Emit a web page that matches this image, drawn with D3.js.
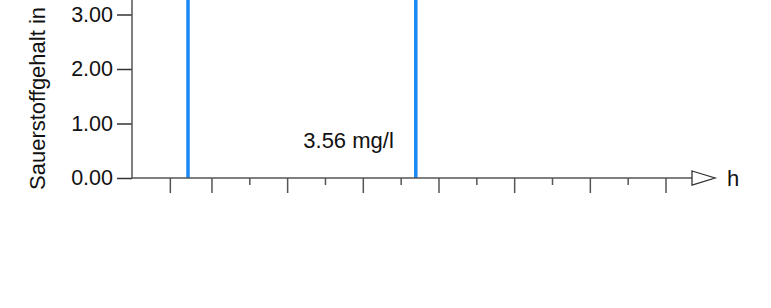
<!DOCTYPE html>
<html>
<head>
<meta charset="utf-8">
<script src="https://cdn.jsdelivr.net/npm/d3@7"></script>
<style>
  body { margin: 0; background: #fff; }
  svg { display: block; font-family: "Liberation Sans", Arial, sans-serif; }
</style>
</head>
<body>
<svg id="chart"></svg>
<script>
// values
var yTicks = [0, 1, 2, 3];
var majorTicks = [2, 4, 6, 8, 10, 12, 14];
var minorTicks = [3, 5, 7, 9, 11, 13];
var markTicks = [0.9];
var eventHours = [1.38, 7.4];
var oxygenLabel = "3.56 mg/l";
var yTitle = "Sauerstoffgehalt in";
var xTitle = "h";

var dimensions = {
  width: 771,
  height: 308,
  margin: { top: 0, left: 132 },
};
var axisY = 178;
var axisEndX = 692;

var svg = d3
  .select("#chart")
  .attr("width", dimensions.width)
  .attr("height", dimensions.height);

var xScale = d3.scaleLinear().domain([-0.1, 14.7]).range([dimensions.margin.left, axisEndX]);
var yScale = d3.scaleLinear().domain([0, 3]).range([axisY, 14.5]);

var axisColor = "#555";

// blue vertical markers
svg
  .selectAll("line.event")
  .data(eventHours)
  .enter()
  .append("line")
  .attr("class", "event")
  .attr("x1", (d) => xScale(d))
  .attr("x2", (d) => xScale(d))
  .attr("y1", yScale(0))
  .attr("y2", -10)
  .attr("stroke", "#1a88f5")
  .attr("stroke-width", 3.5);

// x axis ticks (long and short), no labels
var xLong = d3.axisBottom(xScale).tickValues(majorTicks.concat(markTicks)).tickSize(15).tickSizeOuter(0).tickFormat("");
var xShort = d3.axisBottom(xScale).tickValues(minorTicks).tickSize(7).tickSizeOuter(0).tickFormat("");
[xLong, xShort].forEach(function (gen) {
  var g = svg.append("g").attr("transform", `translate(0,${axisY})`).call(gen);
  g.select(".domain").remove();
  g.selectAll(".tick line").attr("stroke", axisColor).attr("stroke-width", 1.5);
});

// y axis
var yAxis = svg
  .append("g")
  .attr("transform", `translate(${dimensions.margin.left},0)`)
  .call(d3.axisLeft(yScale).tickValues(yTicks).tickSize(15).tickPadding(4).tickFormat(d3.format(".2f")));
yAxis.select(".domain").remove();
yAxis.selectAll(".tick line").attr("stroke", "#333").attr("stroke-width", 1.5);
yAxis.selectAll(".tick text").attr("font-size", 21.5).attr("fill", "#111").attr("font-family", "Liberation Sans, Arial, sans-serif");

// axis lines
svg
  .append("line")
  .attr("x1", dimensions.margin.left)
  .attr("x2", dimensions.margin.left)
  .attr("y1", -5)
  .attr("y2", axisY)
  .attr("stroke", axisColor)
  .attr("stroke-width", 1.5);
svg
  .append("line")
  .attr("x1", dimensions.margin.left)
  .attr("x2", axisEndX)
  .attr("y1", axisY)
  .attr("y2", axisY)
  .attr("stroke", axisColor)
  .attr("stroke-width", 1.5);

// open arrow head
svg
  .append("path")
  .attr("d", `M${axisEndX},${axisY - 7} L${axisEndX + 23},${axisY} L${axisEndX},${axisY + 7} Z`)
  .attr("fill", "#fff")
  .attr("stroke", "#333")
  .attr("stroke-width", 1.3);

svg
  .append("text")
  .attr("x", axisEndX + 35)
  .attr("y", axisY + 8)
  .attr("font-size", 22)
  .attr("fill", "#111")
  .text(xTitle);

// y title
svg
  .append("text")
  .attr("transform", "translate(45,190) rotate(-90)")
  .attr("font-size", 22)
  .attr("fill", "#111")
  .text(yTitle);

// value label
svg
  .append("text")
  .attr("x", xScale(eventHours[1]) - 22)
  .attr("y", yScale(0.55))
  .attr("text-anchor", "end")
  .attr("font-size", 22)
  .attr("fill", "#111")
  .text(oxygenLabel);
</script>
</body>
</html>
